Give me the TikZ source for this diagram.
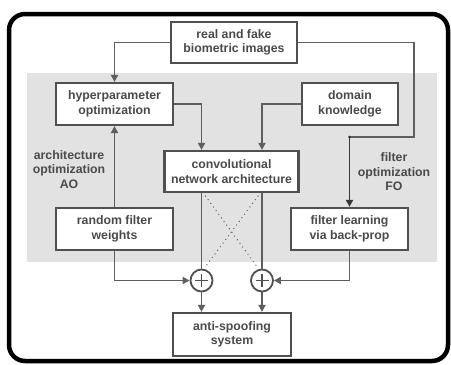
\documentclass[tikz,border=0pt]{standalone}
\usepackage{fontspec}
\setmainfont{Liberation Sans}
\usetikzlibrary{arrows.meta,calc}
\definecolor{boxc}{HTML}{505050}
\definecolor{linec}{HTML}{5E5E5E}
\definecolor{txtc}{HTML}{4A4A4A}
\definecolor{bgc}{HTML}{E2E2E2}
\tikzset{
  blk/.style={draw=boxc, line width=2.2pt, fill=white, inner sep=0pt,
    align=center, text=txtc, font=\fontsize{12.3}{14.5}\selectfont\bfseries},
  lbl/.style={align=center, text=txtc, font=\fontsize{12.3}{14.5}\selectfont\bfseries},
  conn/.style={draw=linec, line width=1.9pt},
  arr/.style={conn, -{Triangle[length=7pt,width=7pt]}},
  sumc/.style={circle, draw=boxc, line width=1.8pt, fill=white, minimum size=22pt, inner sep=0pt},
  dots/.style={draw=linec, line width=1.4pt, line cap=round, dash pattern=on 0pt off 4.5pt},
}
\begin{document}
\begin{tikzpicture}[x=1pt,y=-1pt]
\useasboundingbox (0,0) rectangle (451,365);
\fill[white] (0,0) rectangle (451,365);
\fill[bgc] (27,73) rectangle (437,262);
\draw[line width=4.5pt, rounded corners=16pt] (9,14) rectangle (448,361);

\node[blk, minimum width=126pt, minimum height=41pt] (real) at (234,42.5) {real and fake\\biometric images};
\node[blk, minimum width=117pt, minimum height=42pt] (hyper) at (114.5,104) {hyperparameter\\optimization};
\node[blk, minimum width=96pt, minimum height=42pt] (dom) at (350,104) {domain\\knowledge};
\node[blk, minimum width=134pt, minimum height=41pt] (conv) at (231.5,171.5) {convolutional\\network architecture};
\node[blk, minimum width=117pt, minimum height=42pt] (rand) at (114.5,229) {random filter\\weights};
\node[blk, minimum width=117pt, minimum height=42pt] (filt) at (349.5,229) {filter learning\\via back-prop};
\node[blk, minimum width=118pt, minimum height=43pt] (anti) at (232,334.5) {anti-spoofing\\system};

\node[sumc] (p1) at (201.5,280.5) {};
\node[sumc] (p2) at (262,280.5) {};
\foreach \p in {p1,p2} {
  \draw[draw=boxc, line width=1.5pt] ([xshift=-6.5pt]\p.center) -- ([xshift=6.5pt]\p.center);
  \draw[draw=boxc, line width=1.5pt] ([yshift=-6.5pt]\p.center) -- ([yshift=6.5pt]\p.center);
}

\node[lbl] (ao) at (69,169.5) {architecture\\optimization\\AO};
\node[lbl] (fo) at (394,172) {filter\\optimization\\FO};

\coordinate (rc) at (414,137);
\coordinate (jn) at (349.5,137);

\draw[arr] (real.west) -| (hyper.north);
\draw[conn] (real.east) -| (rc) -- (jn);
\draw[arr, draw=boxc!70!black] (jn) -- (filt.north);
\fill[boxc!50!black] (jn) circle (1.4pt);
\draw[arr] (hyper.east) -| (conv.north -| p1);
\draw[arr] (dom.west) -| (conv.north -| p2);
\draw[arr] (rand.north) -- (hyper.south);
\draw[arr] (rand.south) |- (p1.west);
\draw[arr] (filt.south) |- (p2.east);
\draw[conn] (conv.south -| p1) -- (p1.north);
\draw[conn] (conv.south -| p2) -- (p2.north);
\draw[dots] ([xshift=4pt,yshift=-3pt]conv.south -| p1) -- ([xshift=-5pt,yshift=2pt]p2.north);
\draw[dots] ([xshift=-4pt,yshift=-3pt]conv.south -| p2) -- ([xshift=4pt,yshift=2pt]p1.north);
\draw[arr] (p1.south) -- (anti.north -| p1);
\draw[arr] (p2.south) -- (anti.north -| p2);
\end{tikzpicture}
\end{document}
